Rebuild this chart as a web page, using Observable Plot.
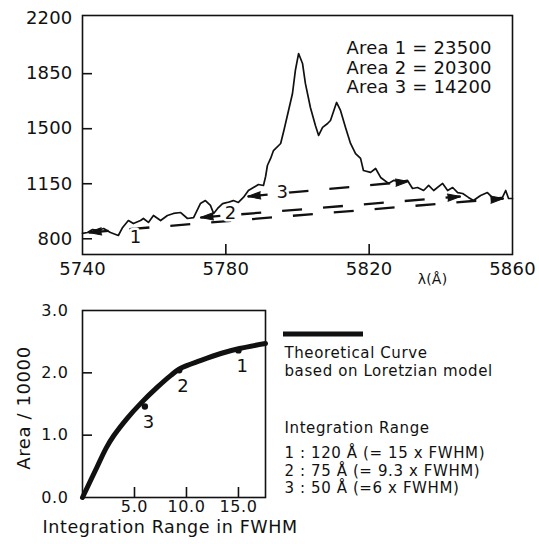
<!DOCTYPE html>
<html><head><meta charset="utf-8">
<script src="https://cdn.jsdelivr.net/npm/d3@7"></script>
<script src="https://cdn.jsdelivr.net/npm/@observablehq/plot@0.6"></script>
<style>
html,body{margin:0;padding:0;background:#fff;}
#wrap{position:relative;width:539px;height:544px;background:#fff;overflow:hidden;}
#top,#bottom{position:absolute;left:0;}
#top{top:0;} #bottom{top:295px;}
</style></head><body><div id="wrap"><div id="top"></div><div id="bottom"></div></div>
<script>
// ---------- Top panel data (spectrum) ----------
const wavelength = [5740.0,5741.4,5742.8,5744.2,5745.9,5747.8,5750.0,5751.2,5752.8,5754.2,5756.2,5757.0,5758.4,5759.8,5761.8,5763.7,5765.4,5767.4,5769.3,5771.0,5772.9,5774.3,5775.7,5776.6,5777.7,5779.1,5780.5,5782.1,5783.5,5784.9,5786.3,5787.7,5789.1,5790.5,5791.1,5791.6,5792.5,5793.3,5795.3,5796.2,5797.5,5798.6,5799.4,5800.3,5801.4,5802.2,5803.6,5805.0,5805.9,5807.0,5808.4,5809.2,5810.9,5812.0,5813.4,5814.8,5816.2,5817.6,5818.4,5820.4,5821.8,5823.2,5825.4,5826.8,5828.8,5830.7,5832.1,5833.5,5835.2,5836.6,5838.0,5840.5,5841.9,5843.3,5844.7,5846.1,5847.7,5849.1,5851.1,5853.0,5854.7,5857.2,5858.1,5858.9,5860.0];
const flux = [834,840,859,853,865,840,821,872,916,897,916,929,904,948,916,948,961,967,929,935,1024,1043,1012,961,993,1024,1031,1043,1031,1063,1107,1126,1145,1139,1196,1266,1311,1361,1406,1489,1616,1724,1870,1978,1915,1788,1635,1520,1457,1508,1533,1552,1667,1616,1508,1406,1342,1311,1234,1222,1247,1190,1152,1171,1164,1171,1120,1126,1107,1139,1107,1152,1107,1126,1094,1088,1063,1043,1075,1094,1056,1063,1107,1056,1056];

// baselines (integration ranges): id, start and end wavelength / flux
const baseId    = [1, 2, 3];
const baseW1    = [5741.7, 5772.9, 5786.1];
const baseF1    = [840, 935, 1069];
const baseW2    = [5857.5, 5845.5, 5831.0];
const baseF2    = [1056, 1069, 1164];
// label positions of the range numbers
const baseLabelW = [5754.8, 5781.3, 5795.8];
const baseLabelF = [808, 961, 1094];

const areaLines = ["Area 1 = 23500", "Area 2 = 20300", "Area 3 = 14200"];
const topXTicks = [5740, 5780, 5820, 5860];
const topYTicks = [800, 1150, 1500, 1850, 2200];
const topXInner = [5780, 5820];
const topYInner = [800, 1150, 1500, 1850];

// ---------- Bottom panel data ----------
const rangeFWHM = [0, 1.4, 2.3, 3.0, 4.3, 5.6, 7.2, 8.5, 9.4, 11.4, 13.3, 15.1, 17.6];
const areaCurve = [0, 0.49, 0.8, 0.99, 1.27, 1.51, 1.77, 1.96, 2.07, 2.2, 2.31, 2.39, 2.47];
const measId    = ["1", "2", "3"];
const measRange = [15, 9.3, 6];
const measArea  = [2.36, 2.04, 1.46];
const botXTicks = [5, 10, 15];
const botYTicks = [0, 1, 2, 3];
const botXInner = [5, 10, 15];
const botYInner = [1, 2];
const legendCurve = "Theoretical Curve\nbased on Loretzian model";
const legendHead = "Integration Range";
const legendItems = ["1 : 120 Å (= 15 x FWHM)", "2 : 75 Å (= 9.3 x FWHM)", "3 : 50 Å (=6 x FWHM)"];

const ink = "#111";

// ---------- build tables ----------
const spectrum = wavelength.map((w, i) => ({w, f: flux[i]}));
const baselines = baseId.map((id, i) => ({id, w1: baseW1[i], f1: baseF1[i], w2: baseW2[i], f2: baseF2[i]}));
const heads = baselines.flatMap(b => [
  {w: b.w1, f: b.f1, dir: "left"},
  {w: b.w2, f: b.f2, dir: "right"}
]);
const baseLabels = baseId.map((id, i) => ({id: String(id), w: baseLabelW[i], f: baseLabelF[i]}));

const topW = 539, topH = 295, tML = 82, tMR = 27, tMT = 15, tMB = 41;
const tFW = topW - tML - tMR, tFH = topH - tMT - tMB;

const topPlot = Plot.plot({
  width: topW, height: topH,
  marginLeft: tML, marginRight: tMR, marginTop: tMT, marginBottom: tMB,
  x: {domain: [5740, 5860], label: null},
  y: {domain: [700, 2220], label: null},
  style: {fontFamily: "DejaVu Sans", fontSize: "18px", color: ink, background: "white", letterSpacing: "0.2px"},
  marks: [
    Plot.frame({stroke: ink, strokeWidth: 1.6}),
    Plot.axisX(topXTicks, {tickSize: 0, tickPadding: 8, tickFormat: d => `${d}`, fontSize: 18, fill: ink}),
    Plot.axisY(topYTicks, {tickSize: 0, tickPadding: 10, tickFormat: d => `${d}`, fontSize: 18, fill: ink}),
    Plot.tickX(topXInner, {x: d => d, insetTop: tFH - 10, stroke: ink, strokeWidth: 1.6}),
    Plot.tickY(topYInner, {y: d => d, insetRight: tFW - 10, stroke: ink, strokeWidth: 1.6}),
    Plot.link(baselines, {x1: "w1", y1: "f1", x2: "w2", y2: "f2", stroke: ink, strokeWidth: 2.3, strokeDasharray: "20,21"}),
    Plot.line(spectrum, {x: "w", y: "f", stroke: ink, strokeWidth: 1.7, strokeLinejoin: "round"}),
    Plot.vector(heads, {x: "w", y: "f", shape: "spike", anchor: "end", length: 13, r: 3.6,
      rotate: d => d.dir === "left" ? 265 : 85, fill: ink, stroke: ink, strokeWidth: 1}),
    Plot.text(baseLabels, {x: "w", y: "f", text: "id", fontSize: 18, fill: ink, stroke: "white", strokeWidth: 5, paintOrder: "stroke"}),
    Plot.text([areaLines.join("\n")], {frameAnchor: "top-left", dx: 264, dy: 25, lineAnchor: "top", textAnchor: "start", lineHeight: 1.08, fontSize: 18, fill: ink}),
    Plot.text(["λ(Å)"], {frameAnchor: "bottom", dx: 135, dy: 29, fontSize: 14, fill: ink})
  ]
});
document.getElementById("top").appendChild(topPlot);

// ---------- bottom plot ----------
const curve = rangeFWHM.map((r, i) => ({r, a: areaCurve[i]}));
const meas = measId.map((id, i) => ({id, r: measRange[i], a: measArea[i]}));

const botW = 539, botH = 249, bML = 82, bMR = 274, bMT = 15, bMB = 47;
const bFW = botW - bML - bMR, bFH = botH - bMT - bMB;

const botPlot = Plot.plot({
  width: botW, height: botH,
  marginLeft: bML, marginRight: bMR, marginTop: bMT, marginBottom: bMB,
  x: {domain: [0, 17.6], label: null},
  y: {domain: [0, 3], label: null},
  style: {fontFamily: "DejaVu Sans", fontSize: "16px", color: ink, background: "white", letterSpacing: "0.6px", overflow: "visible"},
  marks: [
    Plot.frame({stroke: ink, strokeWidth: 1.6}),
    Plot.axisX(botXTicks, {tickSize: 0, tickPadding: 3, tickFormat: d => d.toFixed(1), fontSize: 16, fill: ink}),
    Plot.axisY(botYTicks, {tickSize: 0, tickPadding: 14, tickFormat: d => d.toFixed(1), fontSize: 16, fill: ink}),
    Plot.tickX(botXInner, {x: d => d, insetTop: bFH - 10, stroke: ink, strokeWidth: 1.6}),
    Plot.tickY(botYInner, {y: d => d, insetRight: bFW - 10, stroke: ink, strokeWidth: 1.6}),
    Plot.line(curve, {x: "r", y: "a", curve: "catmull-rom", stroke: ink, strokeWidth: 5, strokeLinecap: "round"}),
    Plot.dot(meas, {x: "r", y: "a", r: 3.2, fill: ink}),
    Plot.text(meas, {x: "r", y: "a", text: "id", dx: 4, dy: 16, fontSize: 18, fill: ink}),
    Plot.text(["Integration Range in FWHM"], {frameAnchor: "bottom-left", dx: -40, dy: 23, lineAnchor: "top", textAnchor: "start", fontSize: 17.5, fill: ink, letterSpacing: "0.4px"}),
    Plot.text(["Area / 10000"], {frameAnchor: "left", dx: -58, dy: 4, rotate: -90, textAnchor: "middle", fontSize: 18, fill: ink}),
    Plot.text([legendCurve], {frameAnchor: "top-right", dx: 19, dy: 35, lineAnchor: "top", textAnchor: "start", lineHeight: 1.18, fontSize: 15, fill: ink, letterSpacing: "1.7px"}),
    Plot.text([legendHead], {frameAnchor: "top-right", dx: 19, dy: 112, lineAnchor: "top", textAnchor: "start", fontSize: 15, fill: ink, letterSpacing: "1.7px"}),
    Plot.text([legendItems.join("\n")], {frameAnchor: "top-right", dx: 19, dy: 135, lineAnchor: "top", textAnchor: "start", lineHeight: 1.18, fontSize: 15, fill: ink, letterSpacing: "1.7px"})
  ]
});
// legend swatch for the theoretical curve
d3.select(botPlot).append("line")
  .attr("x1", botW - bMR + 18).attr("x2", botW - bMR + 98)
  .attr("y1", 39).attr("y2", 39)
  .attr("stroke", ink).attr("stroke-width", 5);
document.getElementById("bottom").appendChild(botPlot);
</script></body></html>
